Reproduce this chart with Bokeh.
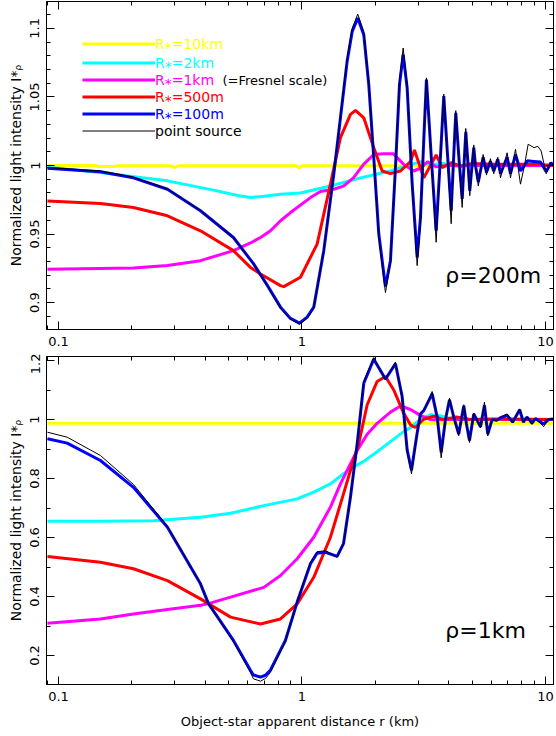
from bokeh.embed import file_html
from bokeh.layouts import column
from bokeh.models import (FixedTicker, Label, Legend, LegendItem, LinearAxis,
                          LogAxis, Range1d)
from bokeh.plotting import figure
from bokeh.resources import INLINE

##################################################################
# values: r (km) and normalized intensity
##################################################################

# rho = 200 m panel
top_yellow_r = [0.0901, 0.142, 0.146, 0.17, 0.175, 0.29, 0.298, 0.31, 0.95, 0.975, 1.0, 3.0, 10.79]
top_yellow_i = [1.0, 1.0, 0.9992, 0.9992, 0.9998, 0.9998, 0.9985, 0.9998, 0.9998, 0.9982, 0.9998, 0.9998, 0.9998]

top_cyan_r = [0.0901, 0.1487, 0.2803, 0.4486, 0.55, 0.6144, 0.7, 0.8163, 0.9858, 1.309, 1.739,
              2.309, 3.067, 3.371, 3.8, 4.3, 5.0, 10.79]
top_cyan_i = [0.999, 0.9948, 0.9888, 0.9815, 0.978, 0.9766, 0.9775, 0.979, 0.980, 0.985, 0.991,
              0.996, 1.0028, 1.0005, 1.0015, 0.9995, 1.0, 1.0]

top_magenta_r = [0.0901, 0.2032, 0.2803, 0.383, 0.523, 0.6144, 0.6755, 0.7426, 0.8163, 0.8972,
                 1.0837, 1.191, 1.35, 1.481, 1.627, 1.794, 1.972, 2.161, 2.376, 2.611, 2.87,
                 3.067, 3.29, 3.557, 4.0, 10.79]
top_magenta_i = [0.9243, 0.9253, 0.927, 0.9306, 0.9379, 0.9435, 0.9475, 0.9524, 0.9597, 0.9657,
                 0.9766, 0.981, 0.9827, 0.985, 0.991, 1.001, 1.008, 1.0086, 1.0085, 1.001, 0.996,
                 0.998, 1.0028, 0.999, 1.0, 1.0]

top_red_r = [0.0901, 0.1487, 0.2032, 0.2803, 0.383, 0.523, 0.6144, 0.6755, 0.8163, 0.842, 0.9858,
             1.154, 1.309, 1.439, 1.582, 1.659, 1.794, 1.972, 2.135, 2.309, 2.539, 2.79, 2.897,
             3.163, 3.557, 3.766, 4.1, 4.5, 5.0, 6.0, 9.0, 10.79]
top_red_i = [0.9742, 0.9723, 0.9694, 0.9633, 0.9524, 0.9379, 0.9257, 0.9209, 0.9124, 0.9117, 0.9185,
             0.9427, 0.9864, 1.0203, 1.0373, 1.0402, 1.0348, 1.013, 0.996, 0.9941, 0.996, 1.0028, 1.0113,
             0.991, 1.0077, 0.9985, 1.002, 0.9995, 1.0015, 1.001, 1.001, 1.0]

top_blue_r = [0.0901, 0.1487, 0.2032, 0.2803, 0.383, 0.523, 0.632, 0.7218, 0.8163, 0.8972, 0.9766,
              1.05, 1.118, 1.229, 1.351, 1.439, 1.533, 1.608, 1.695, 1.794, 1.881, 1.972, 2.068,
              2.202, 2.309, 2.421, 2.515, 2.604, 2.704, 2.836, 2.972, 3.067, 3.163, 3.245, 3.403,
              3.557, 3.688, 3.823, 3.96, 4.1, 4.19, 4.282, 4.414, 4.55, 4.628, 4.708, 4.798, 4.889,
              4.982, 5.077, 5.159, 5.30, 5.548, 5.725, 5.945, 6.134, 6.37, 6.535, 6.962, 7.184,
              7.532, 7.896, 8.199, 8.435, 8.928, 9.54, 10.07, 10.53, 10.79]
top_blue_i = [0.998, 0.9955, 0.991, 0.9827, 0.967, 0.9475, 0.9284, 0.9124, 0.8967, 0.8885, 0.885,
              0.8894, 0.8967, 0.9379, 0.9936, 1.0348, 1.076, 1.0978, 1.1075, 1.0954, 1.059, 1.0057, 0.95,
              0.9117, 0.9306, 0.9985, 1.059, 1.0809, 1.0566, 0.9864, 0.933, 0.962, 1.018, 1.0627, 1.004,
              0.9524, 1.0, 1.0506, 1.008, 0.967, 1.003, 1.0384, 1.005, 0.9757, 1.0, 1.0246, 1.003, 0.9815,
              0.998, 1.013, 1.0, 0.988, 1.006, 0.995, 1.003, 0.996, 1.0045, 0.994, 1.006, 0.994,
              1.008, 0.996, 1.0, 1.0034, 1.003, 1.0025, 0.9955, 1.002, 1.0]

top_black_r = [0.0901, 0.1487, 0.2032, 0.2803, 0.383, 0.523, 0.632, 0.7218, 0.8163, 0.8972, 0.9766,
               1.05, 1.118, 1.229, 1.351, 1.439, 1.533, 1.608, 1.695, 1.794, 1.881, 1.972, 2.068,
               2.202, 2.309, 2.421, 2.515, 2.604, 2.704, 2.836, 2.972, 3.067, 3.163, 3.245, 3.403,
               3.557, 3.688, 3.823, 3.96, 4.1, 4.19, 4.282, 4.414, 4.55, 4.628, 4.708, 4.798, 4.889,
               4.982, 5.077, 5.159, 5.30, 5.548, 5.725, 5.945, 6.134, 6.37, 6.535, 6.962, 7.184,
               7.532, 7.896, 8.199, 8.49, 8.98, 9.3, 9.6, 10.07, 10.53, 10.79]
top_black_i = [0.9985, 0.996, 0.9915, 0.983, 0.9672, 0.9475, 0.9282, 0.912, 0.896, 0.888, 0.8842,
               0.8885, 0.896, 0.938, 0.994, 1.036, 1.078, 1.1, 1.1104, 1.0975, 1.06, 1.005, 0.948,
               0.9073, 0.929, 0.999, 1.062, 1.0857, 1.059, 0.985, 0.927, 0.958, 1.02, 1.0639, 1.003,
               0.944, 0.998, 1.052, 1.006, 0.9575, 1.002, 1.040, 1.004, 0.9694, 0.999, 1.027, 1.002, 0.978,
               0.997, 1.015, 0.999, 0.985, 1.008, 0.993, 1.005, 0.994, 1.006, 0.991, 1.0093, 0.991,
               1.0118, 0.9864, 1.0, 1.0155, 1.013, 1.014, 1.0106, 0.994, 1.0024, 1.0]

# rho = 1 km panel
bot_yellow_r = [0.0901, 1.0, 10.79]
bot_yellow_i = [0.9875, 0.9875, 0.9875]

bot_cyan_r = [0.0901, 0.1487, 0.2462, 0.383, 0.509, 0.697, 0.9557, 1.118, 1.309, 1.481, 1.627,
              1.794, 2.036, 2.309, 2.618, 2.817, 3.067, 3.371, 3.688, 4.1, 5.0, 10.79]
bot_cyan_i = [0.655, 0.655, 0.657, 0.669, 0.682, 0.708, 0.731, 0.754, 0.782, 0.816, 0.838,
              0.858, 0.891, 0.925, 0.959, 0.975, 1.001, 1.016, 1.013, 1.003, 1.0, 1.0]

bot_magenta_r = [0.0901, 0.1487, 0.2032, 0.2803, 0.383, 0.413, 0.509, 0.697, 0.8163, 0.9557, 1.118,
                 1.309, 1.439, 1.582, 1.686, 1.853, 2.036, 2.309, 2.539, 2.79, 3.067, 3.371, 3.592,
                 3.948, 5.0, 10.79]
bot_magenta_i = [0.309, 0.324, 0.341, 0.356, 0.37, 0.376, 0.398, 0.431, 0.471, 0.528, 0.601,
                 0.703, 0.782, 0.85, 0.895, 0.95, 0.987, 1.025, 1.046, 1.034, 1.014, 1.0, 0.998,
                 1.001, 1.0, 1.0]

bot_red_r = [0.0901, 0.1487, 0.2032, 0.2803, 0.383, 0.509, 0.6755, 0.8163, 0.9557, 1.118, 1.309,
             1.481, 1.627, 1.71, 1.853, 2.036, 2.202, 2.382, 2.618, 2.79, 2.92, 3.163, 3.477,
             3.823, 4.3, 4.9, 6.0, 10.79]
bot_red_i = [0.5356, 0.516, 0.494, 0.454, 0.392, 0.33, 0.307, 0.324, 0.375, 0.465, 0.601,
             0.748, 0.861, 0.918, 1.05, 1.129, 1.146, 1.10, 1.021, 0.982, 0.973, 1.001, 1.011,
             0.999, 1.009, 1.0, 1.002, 1.0]

bot_blue_r = [0.0901, 0.1086, 0.1487, 0.2032, 0.2803, 0.383, 0.413, 0.523, 0.6144, 0.632, 0.6755,
              0.708, 0.7426, 0.855, 0.9557, 1.0837, 1.154, 1.249, 1.395, 1.481, 1.582, 1.686, 1.794,
              1.972, 2.202, 2.421, 2.579, 2.704, 2.817, 2.972, 3.067, 3.163, 3.317, 3.425, 3.592,
              3.731, 3.885, 4.035, 4.202, 4.404, 4.619, 4.738, 4.875, 5.077, 5.409, 5.617, 5.795,
              6.04, 6.31, 6.535, 6.962, 7.33, 7.838, 8.11, 8.4, 8.8, 9.1, 9.83, 10.3, 10.79]
bot_blue_i = [0.9345, 0.92, 0.861, 0.77, 0.635, 0.443, 0.376, 0.251, 0.15, 0.134, 0.1265,
              0.133, 0.151, 0.251, 0.381, 0.511, 0.547, 0.55, 0.536, 0.579, 0.737, 0.918, 1.123,
              1.2045, 1.137, 1.189, 1.078, 0.897, 0.828, 0.954, 1.019, 1.03, 1.064, 1.087, 1.008,
              0.889, 1.0, 1.067, 1.008, 0.951, 1.047, 0.985, 0.929, 1.019, 0.975, 1.048, 0.951,
              1.0, 0.997, 1.006, 1.014, 0.991, 1.033, 0.991, 1.008, 0.988, 1.003, 0.985, 1.0, 1.002]

bot_black_r = bot_blue_r
bot_black_i = [0.957, 0.94, 0.878, 0.78, 0.638, 0.443, 0.376, 0.247, 0.142, 0.121, 0.113,
               0.122, 0.143, 0.249, 0.384, 0.516, 0.552, 0.555, 0.533, 0.577, 0.737, 0.922, 1.13,
               1.21, 1.135, 1.195, 1.075, 0.89, 0.816, 0.955, 1.02, 1.032, 1.068, 1.095, 1.006,
               0.87, 1.0, 1.072, 1.006, 0.945, 1.05, 0.983, 0.922, 1.022, 0.972, 1.059, 0.944,
               1.0, 0.995, 1.008, 1.019, 0.989, 1.036, 0.99, 1.01, 0.983, 1.004, 0.976, 1.002, 1.003]

x_ticks = [0.1, 1, 10]
x_labels = ["0.1", "1", "10"]
x_minor = [0.09, 0.2, 0.3, 0.4, 0.5, 0.6, 0.7, 0.8, 0.9, 2, 3, 4, 5, 6, 7, 8, 9]
top_y_ticks = [0.9, 0.95, 1.0, 1.05, 1.1]
top_y_labels = ["0.9", "0.95", "1", "1.05", "1.1"]
bot_y_ticks = [0.2, 0.4, 0.6, 0.8, 1.0, 1.2]
bot_y_labels = ["0.2", "0.4", "0.6", "0.8", "1", "1.2"]

series_names = ["R⁎=10km", "R⁎=2km", "R⁎=1km", "R⁎=500m", "R⁎=100m", "point source"]
series_colors = ["#ffff00", "#00ffff", "#ff00ff", "#ff0000", "#0000ff", "#000000"]
series_widths = [3, 3, 3, 3, 3, 1]

FONT = "DejaVu Sans"
X_RANGE = (0.0893, 10.79)


def style_axis(axis, ticks, minor, labels=None, show_labels=True):
    axis.ticker = FixedTicker(ticks=ticks, minor_ticks=minor)
    axis.major_tick_in = 8
    axis.major_tick_out = 0
    axis.minor_tick_in = 4
    axis.minor_tick_out = 0
    axis.axis_line_color = "black"
    axis.major_tick_line_color = "black"
    axis.minor_tick_line_color = "black"
    axis.major_label_text_font = FONT
    axis.axis_label_text_font = FONT
    axis.axis_label_text_font_style = "normal"
    axis.axis_label_text_color = "black"
    if labels is not None:
        axis.major_label_overrides = dict(zip(ticks, labels))
    if show_labels:
        axis.major_label_text_color = "black"
        axis.major_label_text_font_size = "13px"
        axis.major_label_standoff = 7
    else:
        axis.major_label_text_color = None
        axis.major_label_text_font_size = "1px"
        axis.major_label_standoff = 0


def make_panel(y_range, y_ticks, y_labels, y_minor, border_top, border_bottom, series):
    p = figure(frame_width=507, frame_height=328, x_axis_type="log",
               x_range=Range1d(*X_RANGE), y_range=Range1d(*y_range),
               output_backend="svg", toolbar_location=None,
               min_border_left=46, min_border_right=3, min_border_top=border_top,
               min_border_bottom=border_bottom)
    p.xgrid.visible = False
    p.ygrid.visible = False
    p.outline_line_color = "black"
    p.background_fill_color = "white"

    x_axis = p.xaxis[0]
    style_axis(x_axis, x_ticks, x_minor, x_labels)
    y_axis = p.yaxis[0]
    style_axis(y_axis, y_ticks, y_minor, y_labels)
    y_axis.major_label_orientation = "vertical"
    y_axis.axis_label = "Normalized light intensity I*ᵨ"
    y_axis.axis_label_text_font_size = "14px"
    y_axis.axis_label_standoff = 4

    top_axis = LogAxis()
    style_axis(top_axis, x_ticks, x_minor, show_labels=False)
    p.add_layout(top_axis, "above")
    right_axis = LinearAxis()
    style_axis(right_axis, y_ticks, y_minor, show_labels=False)
    p.add_layout(right_axis, "right")

    renderers = []
    for (r, i), color, width in zip(series, series_colors, series_widths):
        renderers.append(p.line(r, i, line_color=color, line_width=width))
    return p, x_axis, renderers


top_minor = [round(0.88 + 0.01 * k, 2) for k in range(25)]
bot_minor = [round(0.1 * k, 1) for k in range(1, 13)]

top, top_xaxis, top_lines = make_panel(
    (0.8804, 1.1196), top_y_ticks, top_y_labels, top_minor, 1, 24,
    [(top_yellow_r, top_yellow_i), (top_cyan_r, top_cyan_i), (top_magenta_r, top_magenta_i),
     (top_red_r, top_red_i), (top_blue_r, top_blue_i), (top_black_r, top_black_i)])

bottom, bottom_xaxis, bottom_lines = make_panel(
    (0.1017, 1.2136), bot_y_ticks, bot_y_labels, bot_minor, 3, 52,
    [(bot_yellow_r, bot_yellow_i), (bot_cyan_r, bot_cyan_i), (bot_magenta_r, bot_magenta_i),
     (bot_red_r, bot_red_i), (bot_blue_r, bot_blue_i), (bot_black_r, bot_black_i)])
bottom_xaxis.axis_label = "Object-star apparent distance r (km)"
bottom_xaxis.axis_label_text_font_size = "13px"
bottom_xaxis.axis_label_standoff = 10

# legend: one block per entry so each label keeps its line colour
legend_bottoms = [277, 258, 241, 224, 207, 190]
for renderer, name, color, y in zip(top_lines, series_names, series_colors, legend_bottoms):
    legend = Legend(items=[LegendItem(label=name, renderers=[renderer])],
                    location=(36, y), glyph_width=73, glyph_height=17,
                    label_standoff=0, padding=0, spacing=0,
                    border_line_color=None, background_fill_alpha=0,
                    label_text_color=color, label_text_font=FONT,
                    label_text_font_size="14px")
    top.add_layout(legend)

top.add_layout(Label(x=0.4716, y=1.0618, text="(=Fresnel scale)", text_font=FONT,
                     text_font_size="13px", text_color="black", text_baseline="alphabetic"))
top.add_layout(Label(x=3.88, y=0.92, text="ρ=200m", text_font=FONT,
                     text_font_size="22px", text_color="black", text_baseline="alphabetic"))
bottom.add_layout(Label(x=3.88, y=0.285, text="ρ=1km", text_font=FONT,
                        text_font_size="22px", text_color="black", text_baseline="alphabetic"))

layout = column(top, bottom, spacing=0)
open("out.html", "w").write(file_html(layout, INLINE))
